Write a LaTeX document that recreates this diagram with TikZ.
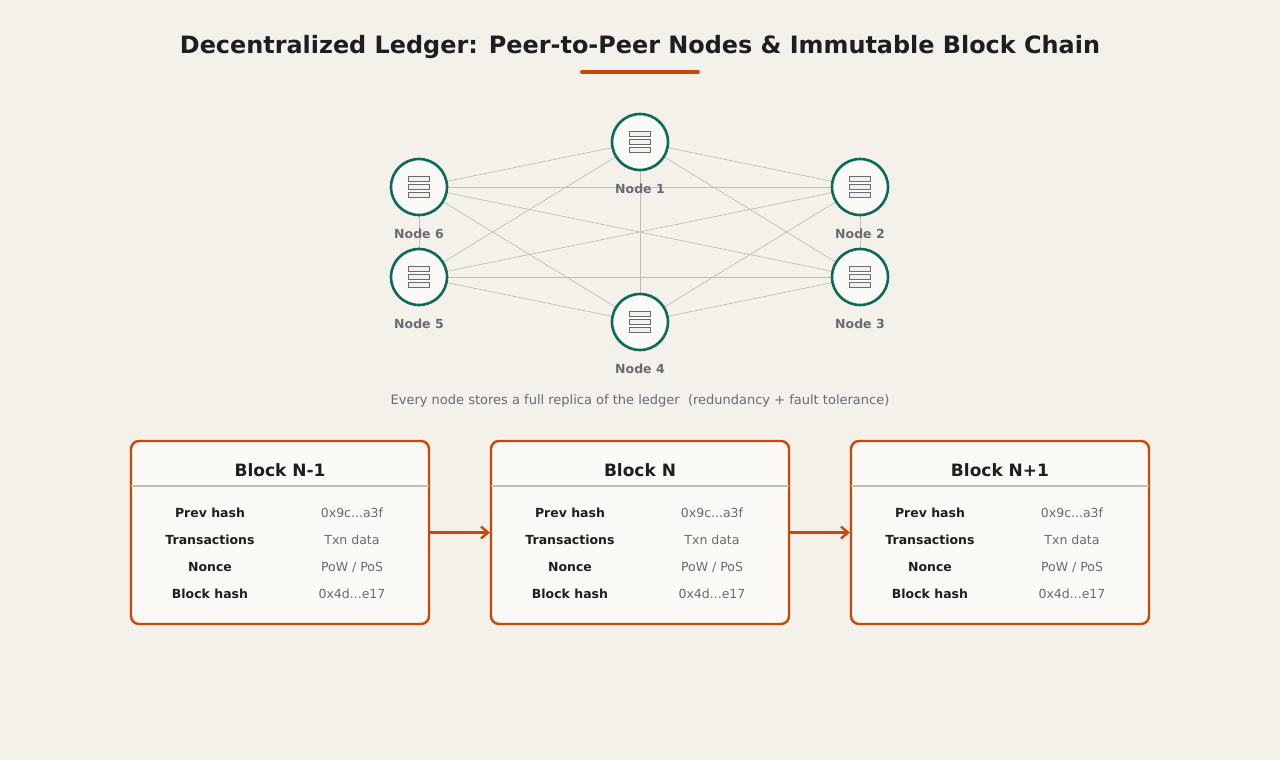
\documentclass[tikz,border=0pt]{standalone}
\usepackage{fontspec}
\setmainfont{DejaVu Sans}
\usepackage{xcolor}
\usetikzlibrary{arrows.meta}
\definecolor{paperbg}{RGB}{244, 241, 235}
\definecolor{cardbg}{RGB}{251, 250, 246}
\definecolor{ledgergreen}{RGB}{12, 106, 88}
\definecolor{chainorange}{RGB}{200, 72, 10}
\definecolor{inkdark}{RGB}{28, 30, 34}
\definecolor{inkgray}{RGB}{104, 106, 116}
\definecolor{meshline}{RGB}{196, 190, 178}

\tikzset{
    peer/.style={circle,draw=ledgergreen,line width=2.6pt,fill=cardbg,minimum size=56pt,inner sep=0pt},
    peerlabel/.style={font=\fontsize{12.5}{14}\selectfont\bfseries,text=inkgray},
    mesh/.style={draw=meshline,line width=0.7pt},
    block/.style={draw=chainorange,line width=2.4pt,fill=cardbg,rounded corners=8pt,minimum width=298pt,minimum height=183pt,inner sep=0pt},
    rowkey/.style={font=\fontsize{12.5}{14}\selectfont\bfseries,text=inkdark},
    rowval/.style={font=\fontsize{12.5}{14}\selectfont,text=inkgray},
    link/.style={draw=chainorange,line width=2.4pt,-{Straight Barb[length=7pt,width=12pt]}}
}

\begin{document}
\begin{tikzpicture}[x=1pt,y=-1pt]
        \fill[paperbg] (0,0) rectangle (1280,760);
        \useasboundingbox (0,0) rectangle (1280,760);

        % heading
        \node[font=\fontsize{23.9}{28}\selectfont\bfseries,text=inkdark] (title) at (640,47) {Decentralized Ledger: Peer-to-Peer Nodes \& Immutable Block Chain};
        \draw[chainorange,line width=4pt,line cap=round] (582,72) -- (698,72);

        % peers
        \foreach \n/\x/\y in {1/640/142, 2/860/187, 3/860/277, 4/640/322, 5/419/277, 6/419/187}{
            \coordinate (c\n) at (\x,\y);
        }
        \foreach \a in {1,...,6}{
            \foreach \b in {1,...,6}{
                \ifnum\a<\b \draw[mesh] (c\a) -- (c\b); \fi
            }
        }
        \foreach \n in {1,...,6}{
            \node[peer] (p\n) at (c\n) {};
            \foreach \dy in {-8,0,8}{
                \draw[inkgray,fill=paperbg,line width=0.6pt] ([xshift=-10.5pt,yshift=\dy pt-2.5pt]c\n) rectangle ([xshift=10.5pt,yshift=\dy pt+2.5pt]c\n);
            }
            \node[peerlabel] (l\n) at ([yshift=-47pt]c\n) {Node \n};
        }
        \node[font=\fontsize{13}{15}\selectfont,text=inkgray] (note) at (640,401) {Every node stores a full replica of the ledger\ \ (redundancy + fault tolerance)};

        % chain of blocks
        \foreach \k/\x/\name in {1/280/N-1, 2/640/N, 3/1000/N+1}{
            \node[block] (b\k) at (\x,532.5) {};
            \node[font=\fontsize{17}{20}\selectfont\bfseries,text=inkdark] (bt\k) at (\x,470) {Block \name};
            \draw[meshline,line width=1.6pt] (\x-149,486) -- (\x+149,486);
            \node[rowkey] at (\x-70,513) {Prev hash};
            \node[rowval] at (\x+72,513) {0x9c...a3f};
            \node[rowkey] at (\x-70,540) {Transactions};
            \node[rowval] at (\x+72,540) {Txn data};
            \node[rowkey] at (\x-70,567) {Nonce};
            \node[rowval] at (\x+72,567) {PoW / PoS};
            \node[rowkey] at (\x-70,594) {Block hash};
            \node[rowval] at (\x+72,594) {0x4d...e17};
        }
        \draw[link] (b1) -- (b2);
        \draw[link] (b2) -- (b3);
    \end{tikzpicture}
\end{document}
